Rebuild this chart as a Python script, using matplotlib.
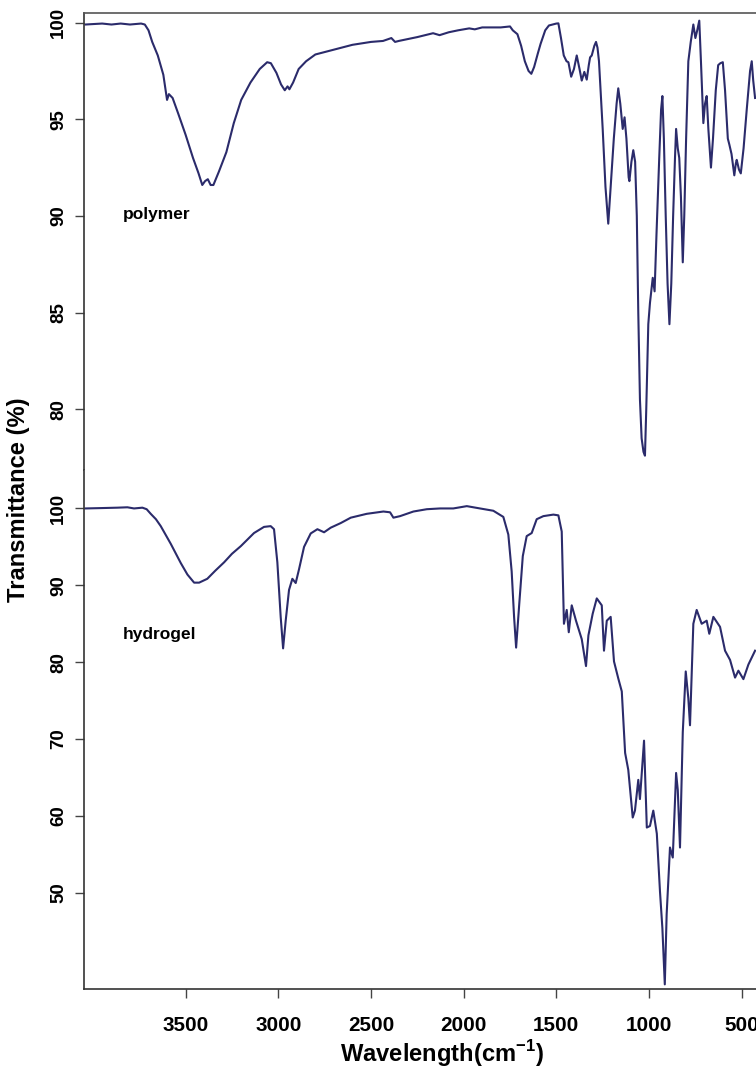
import matplotlib
matplotlib.use("Agg")
import matplotlib.pyplot as plt
from matplotlib import font_manager as fm

# FTIR spectra, wavenumber (cm-1) vs transmittance (%)
polymer_wn = [4040, 3950, 3900, 3850, 3800, 3740, 3720, 3700, 3680, 3650,
              3620, 3600, 3590, 3570, 3540, 3500, 3460, 3430, 3410, 3395,
              3380, 3365, 3350, 3320, 3280, 3240, 3200, 3150, 3100, 3060,
              3040, 3010, 2985, 2965, 2950, 2940, 2920, 2890, 2850, 2800,
              2700, 2600, 2500, 2435, 2390, 2370, 2350, 2250, 2165, 2130,
              2080, 2030, 2000, 1970, 1940, 1900, 1800, 1750, 1735, 1710,
              1690, 1670, 1650, 1635, 1620, 1600, 1585, 1560, 1540, 1500,
              1489, 1475, 1460, 1445, 1435, 1420, 1405, 1390, 1375, 1363,
              1349, 1336, 1325, 1318, 1309, 1295, 1286, 1278, 1270, 1250,
              1235, 1220, 1205, 1190, 1175, 1166, 1155, 1142, 1132, 1122,
              1110, 1106, 1095, 1085, 1075, 1066, 1058, 1049, 1040, 1030,
              1022, 1015, 1004, 995, 980, 970, 960, 945, 935, 928,
              920, 910, 900, 890, 880, 870, 860, 854, 845, 837,
              828, 818, 810, 800, 788, 775, 761, 750, 740, 729,
              720, 707, 698, 689, 680, 666, 655, 640, 627, 615,
              602, 590, 575, 567, 555, 540, 532, 527, 515, 505,
              490, 473, 455, 446, 438, 428]
polymer_t = [99.9, 99.95, 99.9, 99.95, 99.9, 99.95, 99.9, 99.6, 99.0, 98.3,
             97.3, 96.0, 96.3, 96.1, 95.3, 94.2, 93.0, 92.2, 91.6, 91.8,
             91.9, 91.6, 91.6, 92.3, 93.3, 94.8, 96.0, 96.9, 97.6, 97.95,
             97.9, 97.4, 96.8, 96.5, 96.7, 96.55, 96.9, 97.6, 98.0, 98.35,
             98.6, 98.85, 99.0, 99.05, 99.2, 99.0, 99.05, 99.25, 99.45, 99.35,
             99.5, 99.6, 99.65, 99.7, 99.65, 99.75, 99.75, 99.8, 99.6, 99.4,
             98.8, 98.0, 97.5, 97.35, 97.7, 98.4, 98.9, 99.6, 99.85, 99.95,
             99.96, 99.2, 98.3, 98.0, 97.95, 97.2, 97.6, 98.3, 97.6, 97.0,
             97.45, 97.05, 97.8, 98.2, 98.3, 98.8, 99.0, 98.7, 98.0, 94.5,
             91.5, 89.6, 91.8, 94.0, 95.8, 96.6, 95.8, 94.5, 95.1, 94.0,
             92.0, 91.8, 92.8, 93.4, 92.8, 90.0, 85.0, 80.5, 78.5, 77.8,
             77.6, 80.0, 84.4, 85.5, 86.8, 86.1, 89.0, 93.0, 95.5, 96.2,
             94.0, 90.0, 86.5, 84.4, 86.5, 90.0, 93.0, 94.5, 93.5, 93.0,
             91.0, 87.6, 90.0, 94.0, 98.0, 99.0, 99.9, 99.2, 99.6, 100.1,
             98.0, 94.8, 95.8, 96.2, 94.5, 92.5, 94.0, 96.5, 97.8, 97.9,
             97.95, 96.5, 94.0, 93.7, 93.2, 92.1, 92.7, 92.9, 92.4, 92.2,
             93.5, 95.5, 97.5, 98.0, 97.0, 96.1]

hydrogel_wn = [4040, 3950, 3868, 3814, 3778, 3733, 3710, 3688, 3660, 3634,
               3580, 3526, 3490, 3454, 3427, 3383, 3340, 3292, 3250, 3202,
               3131, 3077, 3041, 3023, 3005, 2987, 2974, 2960, 2942, 2924,
               2906, 2888, 2861, 2825, 2789, 2753, 2717, 2663, 2609, 2523,
               2433, 2397, 2379, 2343, 2271, 2199, 2127, 2056, 1983, 1912,
               1840, 1786, 1759, 1741, 1728, 1717, 1700, 1681, 1660, 1633,
               1606, 1570, 1516, 1489, 1471, 1459, 1444, 1433, 1417, 1394,
               1363, 1340, 1327, 1304, 1282, 1255, 1243, 1228, 1207, 1189,
               1166, 1147, 1129, 1112, 1088, 1076, 1058, 1049, 1027, 1012,
               995, 977, 958, 941, 928, 915, 905, 887, 872, 854,
               845, 833, 818, 802, 788, 779, 761, 743, 716, 689,
               675, 653, 617, 590, 563, 536, 518, 491, 464, 428]
hydrogel_t = [100.0, 100.05, 100.1, 100.15, 100.0, 100.1, 99.9, 99.3, 98.6, 97.7,
              95.4, 92.9, 91.4, 90.35, 90.35, 90.85, 91.9, 93.0, 94.1, 95.1,
              96.8, 97.6, 97.7, 97.3, 93.0, 85.9, 81.8, 85.4, 89.4, 90.85,
              90.3, 92.1, 95.0, 96.75, 97.3, 96.9, 97.5, 98.1, 98.8, 99.3,
              99.6, 99.5, 98.8, 99.0, 99.6, 99.9, 100.0, 100.0, 100.3, 100.0,
              99.7, 98.9, 96.6, 91.8, 85.9, 81.9, 87.6, 93.8, 96.4, 96.8,
              98.6, 99.0, 99.2, 99.1, 97.0, 85.0, 86.8, 83.9, 87.4, 85.4,
              83.0, 79.5, 83.5, 86.3, 88.3, 87.4, 81.5, 85.4, 85.9, 80.1,
              77.9, 76.2, 68.2, 66.0, 59.8, 60.7, 64.7, 62.2, 69.8, 58.5,
              58.7, 60.7, 57.7, 50.2, 45.4, 38.1, 47.2, 55.9, 54.6, 65.6,
              63.4, 55.9, 70.9, 78.8, 75.3, 71.8, 85.0, 86.8, 85.0, 85.4,
              83.7, 85.9, 84.6, 81.5, 80.3, 78.0, 78.9, 77.8, 79.7, 81.5]

x_ticks = [3500, 3000, 2500, 2000, 1500, 1000, 500]
polymer_ticks = [80, 85, 90, 95, 100]
hydrogel_ticks = [50, 60, 70, 80, 90, 100]


def pick_font(names):
    for name in names:
        try:
            fm.findfont(fm.FontProperties(family=name), fallback_to_default=False)
            return name
        except ValueError:
            continue
    return "DejaVu Sans"


axis_font = pick_font(["Liberation Sans Narrow", "Liberation Sans"])
label_font = pick_font(["Liberation Sans"])
narrow = axis_font == "Liberation Sans Narrow"
scale = 1.0 if narrow else 0.9

plt.rcParams["font.family"] = [axis_font, "DejaVu Sans"]
plt.rcParams["font.weight"] = "bold"
plt.rcParams["mathtext.fontset"] = "custom"
plt.rcParams["mathtext.rm"] = axis_font + ":bold"
plt.rcParams["mathtext.bf"] = axis_font + ":bold"

W, H = 756, 1072
fig = plt.figure(figsize=(W / 100, H / 100), dpi=100)
line_color = "#2b2b6b"

left = 84 / W
width = 1 - left
ax_top = fig.add_axes([left, 1 - 470 / H, width, (470 - 13.3) / H])
ax_bot = fig.add_axes([left, 1 - 989 / H, width, (989 - 470) / H])

ax_top.plot(polymer_wn, polymer_t, color=line_color, lw=1.5)
ax_bot.plot(hydrogel_wn, hydrogel_t, color=line_color, lw=1.5)

for ax in (ax_top, ax_bot):
    ax.set_xlim(4048, 423)
    ax.spines["right"].set_visible(False)
    ax.spines["left"].set_color("#333333")
    ax.spines["left"].set_linewidth(1.2)
    ax.tick_params(axis="y", length=6.5, width=1.0, color="#444444",
                   pad=5.5, labelsize=15 * scale, labelrotation=90)

ax_top.set_ylim(76.86, 100.48)
ax_top.set_yticks(polymer_ticks)
ax_top.set_xticks([])
ax_top.spines["bottom"].set_visible(False)
ax_top.spines["top"].set_color("#555555")
ax_top.spines["top"].set_linewidth(1.2)

ax_bot.set_ylim(37.5, 105.0)
ax_bot.set_yticks(hydrogel_ticks)
ax_bot.set_xticks(x_ticks)
ax_bot.spines["top"].set_visible(False)
ax_bot.spines["bottom"].set_color("#333333")
ax_bot.spines["bottom"].set_linewidth(1.2)
ax_bot.tick_params(axis="x", length=6.5, width=1.0, color="#444444",
                   pad=13, labelsize=16.5 * scale)

for ax in (ax_top, ax_bot):
    for lab in ax.get_yticklabels():
        lab.set_va("center")

# sample names inside each panel
fig.text(157 / W, 1 - 215 / H, "polymer", family=label_font, weight="bold",
         fontsize=12.5, ha="center", va="center")
fig.text(160 / W, 1 - 635 / H, "hydrogel", family=label_font, weight="bold",
         fontsize=12.5, ha="center", va="center")

# shared axis titles
fig.text(19 / W, 1 - 500 / H, "Transmittance (%)", rotation=90,
         fontsize=19 * scale, weight="bold", ha="center", va="center")
fig.text(442 / W, 1 - 1054 / H, r"Wavelength(cm$^{\mathbf{-1}}$)",
         fontsize=19 * scale, weight="bold", ha="center", va="center")

fig.savefig("out.png", dpi=100)
